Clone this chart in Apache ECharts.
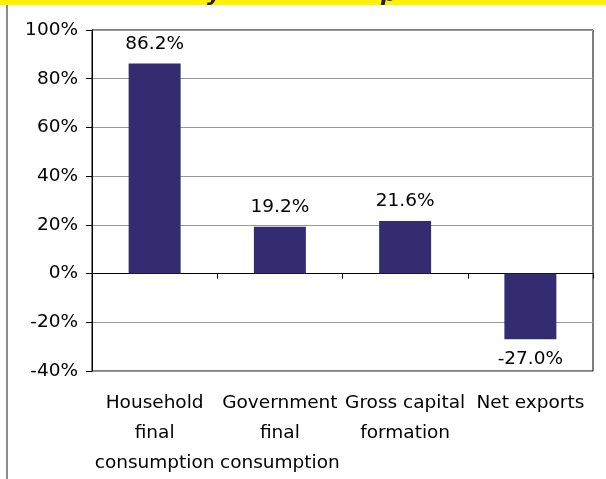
<!DOCTYPE html>
<html>
<head>
<meta charset="utf-8">
<script src="https://cdn.jsdelivr.net/npm/echarts@6/dist/echarts.min.js"></script>
<style>
html, body { margin: 0; padding: 0; background: #fff; }
#chart_main { width: 606px; height: 479px; }
</style>
</head>
<body>
<div id="chart_main"></div>
<script>
var categories = ['Household\nfinal\nconsumption', 'Government\nfinal\nconsumption', 'Gross capital\nformation', 'Net exports'];
var shares = [86.2, 19.2, 21.6, -27.0];
var yMin = -40, yMax = 100, yStep = 20;

var chartDom = document.getElementById('chart_main');
var myChart = echarts.init(chartDom);
var fontName = 'DejaVu Sans';

myChart.setOption({
    animation: false,
    textStyle: { fontFamily: fontName },
    graphic: [
        { type: 'rect', shape: { x: 0, y: 0, width: 606, height: 5 }, style: { fill: '#FFF200' }, z: 1 },
        { type: 'line', shape: { x1: 7, y1: 5, x2: 7, y2: 479 }, style: { stroke: '#8c8c8c', lineWidth: 2 } },
        // bits of the cut-off heading above the chart
        { type: 'text', x: 207, y: 6, z: 2, style: { text: 'y', fill: '#222', font: 'italic bold 22px ' + fontName, verticalAlign: 'bottom' } },
        { type: 'text', x: 381, y: 6, z: 2, style: { text: 'p', fill: '#222', font: 'italic bold 22px ' + fontName, verticalAlign: 'bottom' } }
    ],
    grid: {
        left: 92, right: 13, top: 30, bottom: 108,
        show: true, borderColor: '#000', borderWidth: 1
    },
    xAxis: [
        {
            type: 'category',
            data: categories,
            position: 'bottom',
            axisLine: { show: false, onZero: false },
            axisTick: { show: false },
            axisLabel: { color: '#000', fontSize: 18.5, lineHeight: 30, margin: 17, interval: 0 },
            splitLine: { show: false }
        },
        {
            type: 'category',
            data: categories,
            position: 'top',
            axisLine: { onZero: true, onZeroAxisIndex: 0, lineStyle: { color: '#000', width: 1 } },
            axisTick: { show: true, inside: true, length: 5, lineStyle: { color: '#000' } },
            axisLabel: { show: false },
            splitLine: { show: false }
        }
    ],
    yAxis: {
        type: 'value',
        min: yMin, max: yMax, interval: yStep,
        axisLine: { show: true, lineStyle: { color: '#000' } },
        axisTick: { show: true, length: 6, lineStyle: { color: '#000' } },
        axisLabel: { color: '#000', fontSize: 18.5, margin: 14, formatter: '{value}%' },
        splitLine: { show: true, lineStyle: { color: '#999', width: 1 } }
    },
    series: [{
        type: 'bar',
        xAxisIndex: 0,
        data: shares,
        barWidth: '41.5%',
        itemStyle: { color: '#332C71' },
        label: {
            show: true,
            position: 'outside',
            color: '#000',
            fontSize: 18.5,
            distance: 10,
            formatter: function (p) { return p.value.toFixed(1) + '%'; }
        }
    }]
});
</script>
</body>
</html>
